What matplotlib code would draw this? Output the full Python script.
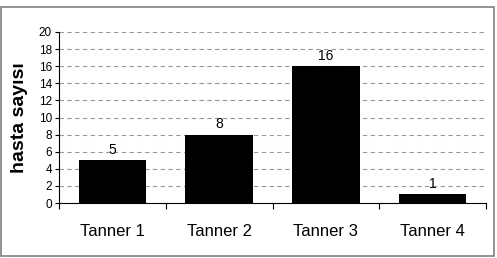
import matplotlib.pyplot as plt
from matplotlib.patches import Rectangle
import numpy as np

plt.rcParams['font.family'] = ['Liberation Sans', 'DejaVu Sans']

categories = ["Tanner 1", "Tanner 2", "Tanner 3", "Tanner 4"]
counts = [5, 8, 16, 1]

fig = plt.figure(figsize=(4.97, 2.58), dpi=100)
# outer frame of the chart area
fig.patches.append(Rectangle((1 / 497, 2 / 258), 493 / 497, 249 / 258,
                             transform=fig.transFigure, fill=False,
                             edgecolor="#808080", linewidth=1.2))

ax = fig.add_axes([59 / 497, 55 / 258, 427 / 497, 171 / 258])
x = np.arange(len(categories))
ax.bar(x, counts, width=0.63, color="black", zorder=3)

for xi, v in zip(x, counts):
    ax.text(xi, v + 0.4, str(v), ha="center", va="bottom", fontsize=10)

ax.set_xlim(-0.5, len(categories) - 0.5)
ax.set_ylim(0, 20)
ax.set_yticks(range(0, 21, 2))
ax.tick_params(axis="y", labelsize=8.5, length=3, width=0.8, pad=2)
ax.yaxis.grid(True, linestyle=(0, (4, 3)), color="#999999", linewidth=0.8, zorder=0)

# category labels centred, ticks on the boundaries
ax.set_xticks(np.arange(-0.5, len(categories)), minor=False)
ax.set_xticklabels([])
ax.set_xticks(x, minor=True)
ax.set_xticklabels(categories, minor=True, fontsize=12)
ax.tick_params(axis="x", which="major", length=4, width=0.8)
ax.tick_params(axis="x", which="minor", length=0, pad=15)

for s in ["top", "right"]:
    ax.spines[s].set_visible(False)
ax.spines["left"].set_linewidth(0.8)
ax.spines["bottom"].set_linewidth(0.8)

ax.set_ylabel("hasta sayısı", fontsize=14, fontweight="bold", labelpad=8)

fig.savefig("out.png", dpi=100)
